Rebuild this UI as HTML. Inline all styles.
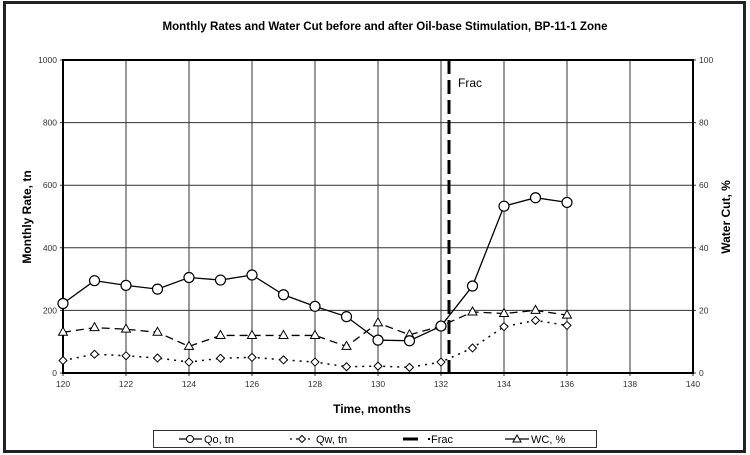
<!DOCTYPE html>
<html><head><meta charset="utf-8"><style>
html,body{margin:0;padding:0;background:#fff;}
svg{display:block;font-family:"Liberation Sans",sans-serif;}
</style></head><body>
<svg id="s" width="750" height="455" xmlns="http://www.w3.org/2000/svg">
<rect x="4.5" y="2.5" width="740" height="449" fill="#fff" stroke="#222" stroke-width="3"/>
<text x="385" y="30" text-anchor="middle" font-size="11.5" font-weight="bold" textLength="445" lengthAdjust="spacingAndGlyphs">Monthly Rates and Water Cut before and after Oil-base Stimulation, BP-11-1 Zone</text>
<g id="g"></g>
<text x="372" y="413" text-anchor="middle" font-size="12" font-weight="bold">Time, months</text>
<text transform="translate(31,217) rotate(-90)" text-anchor="middle" font-size="12" font-weight="bold">Monthly Rate, tn</text>
<text transform="translate(730,217) rotate(-90)" text-anchor="middle" font-size="12" font-weight="bold">Water Cut, %</text>
<text x="458" y="87" font-size="12">Frac</text>
<rect x="153.5" y="430.5" width="443" height="17" fill="#fff" stroke="#333" stroke-width="1"/>
<g font-size="11">
<line x1="179" y1="439" x2="202" y2="439" stroke="#000" stroke-width="1.3"/><circle cx="190" cy="439" r="3.5" fill="#fff" stroke="#000"/><text x="204" y="443">Qo, tn</text>
<line x1="290" y1="439" x2="314" y2="439" stroke="#000" stroke-width="1.3" stroke-dasharray="2,4"/><path d="M302 435.5 L305.5 439 L302 442.5 L298.5 439Z" fill="#fff" stroke="#000"/><text x="316" y="443">Qw, tn</text>
<line x1="403" y1="439" x2="418" y2="439" stroke="#000" stroke-width="3"/><rect x="428" y="438" width="2" height="2"/><text x="431" y="443">Frac</text>
<line x1="505" y1="439" x2="529" y2="439" stroke="#000" stroke-width="1.3"/><path d="M517 435 L521 442 L513 442Z" fill="#fff" stroke="#000"/><text x="531" y="443">WC, %</text>
</g>
</svg>
<script>
var L=63,R=693,T=60,B=373;
function X(m){return L+(m-120)*(R-L)/20;}
function Y(v){return B-v*(B-T)/1000;}
var s='';
for(var i=0;i<=10;i++){var x=X(120+2*i);s+='<line x1="'+x+'" y1="'+T+'" x2="'+x+'" y2="'+(B+3)+'" stroke="#333" stroke-width="1"/>';
s+='<text x="'+x+'" y="387" text-anchor="middle" font-size="8.5" fill="#333">'+(120+2*i)+'</text>';}
for(var j=0;j<=5;j++){var y=Y(j*200);s+='<line x1="'+(L-3)+'" y1="'+y+'" x2="'+(R+3)+'" y2="'+y+'" stroke="#333" stroke-width="1"/>';
s+='<text x="'+(L-6)+'" y="'+(y+3)+'" text-anchor="end" font-size="8.5" fill="#333">'+(j*200)+'</text>';
s+='<text x="'+(R+6)+'" y="'+(y+3)+'" font-size="8.5" fill="#333">'+(j*20)+'</text>';}
s+='<rect x="'+L+'" y="'+T+'" width="'+(R-L)+'" height="'+(B-T)+'" fill="none" stroke="#000" stroke-width="2"/>';
var qo=[222,295,280,268,305,297,313,250,213,180,105,103,150,278,533,560,545];
var qw=[40,60,55,48,35,47,50,42,35,20,22,18,35,80,148,168,152];
var wc=[130,145,140,130,85,120,120,120,120,85,160,122,150,195,190,200,185];
function pts(a){return a.map(function(v,i){return X(120+i)+','+Y(v)}).join(' ');}
s+='<polyline points="'+pts(wc)+'" fill="none" stroke="#000" stroke-width="1.3" stroke-dasharray="8,5"/>';
s+='<polyline points="'+pts(qw)+'" fill="none" stroke="#000" stroke-width="1.5" stroke-dasharray="2,5"/>';
s+='<polyline points="'+pts(qo)+'" fill="none" stroke="#000" stroke-width="1.3"/>';
var fx=449;
s+='<line x1="'+fx+'" y1="'+T+'" x2="'+fx+'" y2="'+B+'" stroke="#000" stroke-width="3" stroke-dasharray="14,6"/>';
wc.forEach(function(v,i){var x=X(120+i),y=Y(v);s+='<path d="M'+x+' '+(y-5)+' L'+(x+4.5)+' '+(y+3)+' L'+(x-4.5)+' '+(y+3)+'Z" fill="#fff" stroke="#000"/>';});
qw.forEach(function(v,i){var x=X(120+i),y=Y(v);s+='<path d="M'+x+' '+(y-4)+' L'+(x+4)+' '+y+' L'+x+' '+(y+4)+' L'+(x-4)+' '+y+'Z" fill="#fff" stroke="#000"/>';});
qo.forEach(function(v,i){s+='<circle cx="'+X(120+i)+'" cy="'+Y(v)+'" r="5" fill="#fff" stroke="#000" stroke-width="1.2"/>';});
document.getElementById('g').innerHTML=s;
</script>
</body></html>
